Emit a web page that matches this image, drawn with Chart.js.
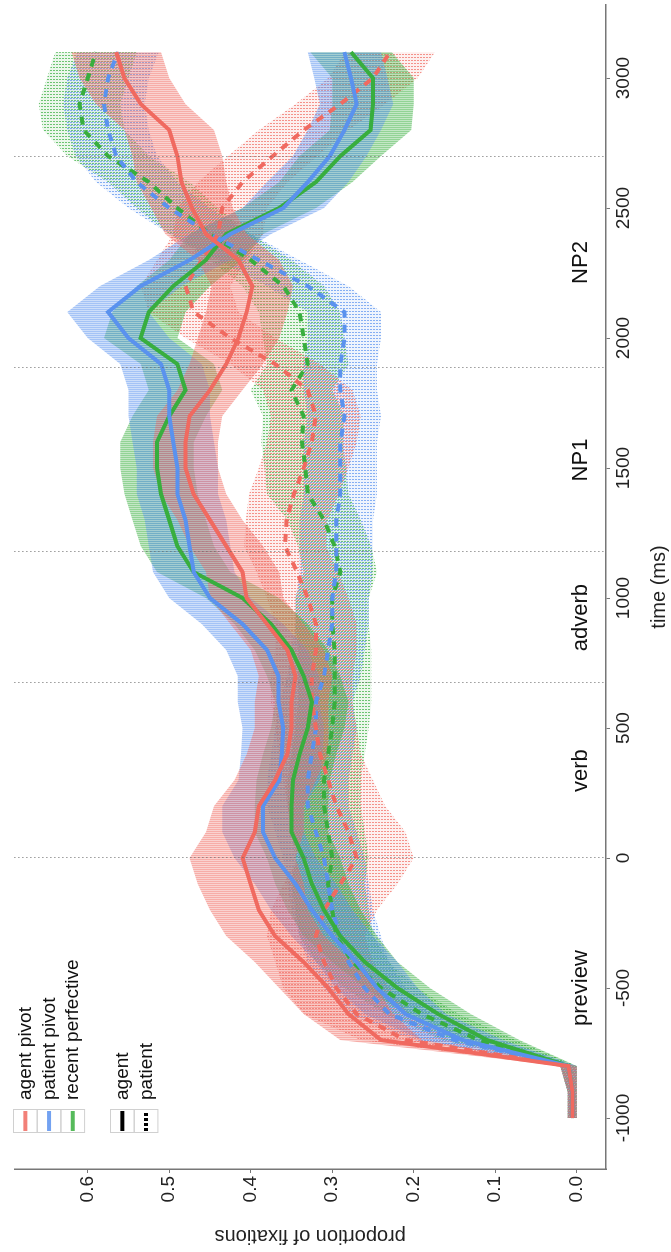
<!DOCTYPE html>
<html>
<head>
<meta charset="utf-8">
<script src="https://cdn.jsdelivr.net/npm/chart.js@4.4.1/dist/chart.umd.min.js"></script>
<style>
  html, body { margin: 0; padding: 0; background: #fff; overflow: hidden; }
  body { width: 671px; height: 1252px; position: relative; }
  /* the figure is drawn landscape and turned a quarter turn to the left */
  #wrap { position: absolute; left: 0; top: 0; width: 1252px; height: 671px;
          transform-origin: 0 0; transform: translate(0, 1252px) rotate(-90deg); }
</style>
</head>
<body>
<div id="wrap"><canvas id="chart" width="1252" height="671"></canvas></div>
<script>
// time in ms
const times = [-1000, -900, -800, -700, -600, -500, -400, -300, -200, -100,
  0, 100, 200, 300, 400, 500, 600, 700, 800, 900,
  1000, 1100, 1200, 1300, 1400, 1500, 1600, 1700, 1800, 1900,
  2000, 2100, 2200, 2300, 2400, 2500, 2600, 2700, 2800, 2900,
  3000, 3100];

// proportion of fixations: condition x looked-at referent
const apAgent = [0.005, 0.005, 0.01, 0.24, 0.28, 0.305, 0.335, 0.37, 0.39, 0.40,
  0.41, 0.395, 0.39, 0.37, 0.355, 0.35, 0.35, 0.345, 0.355, 0.38,
  0.405, 0.41, 0.43, 0.45, 0.47, 0.48, 0.48, 0.475, 0.45, 0.43,
  0.415, 0.405, 0.398, 0.415, 0.455, 0.472, 0.485, 0.49, 0.50, 0.535,
  0.555, 0.565];
const apPatient = [0.005, 0.005, 0.01, 0.21, 0.27, 0.295, 0.31, 0.32, 0.31, 0.29,
  0.27, 0.28, 0.295, 0.305, 0.315, 0.32, 0.325, 0.325, 0.32, 0.32,
  0.33, 0.343, 0.358, 0.356, 0.347, 0.335, 0.325, 0.32, 0.33, 0.37,
  0.425, 0.47, 0.48, 0.46, 0.44, 0.435, 0.41, 0.373, 0.335, 0.29,
  0.25, 0.229];
const ppAgent = [0.005, 0.005, 0.01, 0.14, 0.21, 0.245, 0.27, 0.30, 0.325, 0.345,
  0.37, 0.385, 0.385, 0.365, 0.362, 0.36, 0.366, 0.366, 0.38, 0.41,
  0.45, 0.47, 0.475, 0.48, 0.49, 0.49, 0.495, 0.50, 0.50, 0.51,
  0.55, 0.575, 0.535, 0.475, 0.425, 0.36, 0.33, 0.303, 0.285, 0.27,
  0.277, 0.285];
const ppPatient = [0.005, 0.005, 0.01, 0.15, 0.23, 0.26, 0.28, 0.29, 0.30, 0.305,
  0.31, 0.32, 0.33, 0.33, 0.325, 0.32, 0.32, 0.31, 0.305, 0.30,
  0.30, 0.295, 0.295, 0.295, 0.29, 0.29, 0.29, 0.285, 0.29, 0.29,
  0.285, 0.285, 0.33, 0.39, 0.45, 0.50, 0.54, 0.565, 0.575, 0.58,
  0.575, 0.563];
const rpAgent = [0.005, 0.005, 0.01, 0.11, 0.17, 0.22, 0.26, 0.29, 0.31, 0.325,
  0.335, 0.35, 0.35, 0.348, 0.34, 0.33, 0.325, 0.335, 0.35, 0.375,
  0.41, 0.47, 0.49, 0.50, 0.51, 0.515, 0.515, 0.50, 0.48, 0.49,
  0.535, 0.525, 0.495, 0.455, 0.43, 0.365, 0.32, 0.29, 0.253, 0.25,
  0.25, 0.277];
const rpPatient = [0.005, 0.005, 0.01, 0.12, 0.19, 0.24, 0.275, 0.295, 0.30, 0.305,
  0.30, 0.305, 0.31, 0.31, 0.305, 0.30, 0.297, 0.297, 0.297, 0.30,
  0.30, 0.29, 0.297, 0.31, 0.33, 0.333, 0.337, 0.335, 0.35, 0.33,
  0.335, 0.34, 0.36, 0.40, 0.45, 0.49, 0.525, 0.575, 0.605, 0.61,
  0.60, 0.59];

// half width of the error band around each line
const apAgentErr = [0.006, 0.006, 0.01, 0.05, 0.055, 0.06, 0.06, 0.06, 0.06, 0.065,
  0.065, 0.06, 0.055, 0.05, 0.05, 0.045, 0.045, 0.045, 0.045, 0.045,
  0.045, 0.045, 0.045, 0.04, 0.04, 0.04, 0.04, 0.04, 0.04, 0.045,
  0.05, 0.05, 0.05, 0.05, 0.05, 0.05, 0.055, 0.055, 0.055, 0.055,
  0.055, 0.055];
const apPatientErr = [0.006, 0.006, 0.01, 0.055, 0.065, 0.065, 0.06, 0.06, 0.065, 0.07,
  0.07, 0.07, 0.06, 0.055, 0.05, 0.05, 0.05, 0.05, 0.05, 0.05,
  0.05, 0.05, 0.05, 0.05, 0.055, 0.055, 0.055, 0.055, 0.055, 0.055,
  0.055, 0.055, 0.055, 0.055, 0.055, 0.055, 0.055, 0.055, 0.055, 0.055,
  0.055, 0.055];
const ppAgentErr = [0.006, 0.006, 0.01, 0.05, 0.05, 0.05, 0.05, 0.05, 0.05, 0.05,
  0.05, 0.05, 0.05, 0.05, 0.05, 0.05, 0.05, 0.05, 0.05, 0.05,
  0.05, 0.05, 0.05, 0.05, 0.05, 0.05, 0.05, 0.05, 0.05, 0.05,
  0.05, 0.05, 0.05, 0.05, 0.05, 0.05, 0.05, 0.045, 0.045, 0.045,
  0.045, 0.045];
const ppPatientErr = [0.006, 0.006, 0.01, 0.05, 0.05, 0.05, 0.05, 0.05, 0.05, 0.05,
  0.05, 0.05, 0.05, 0.05, 0.05, 0.05, 0.045, 0.045, 0.045, 0.045,
  0.045, 0.045, 0.045, 0.045, 0.045, 0.045, 0.045, 0.045, 0.045, 0.045,
  0.045, 0.045, 0.05, 0.05, 0.05, 0.05, 0.05, 0.05, 0.05, 0.05,
  0.05, 0.05];
const rpAgentErr = [0.006, 0.006, 0.01, 0.04, 0.04, 0.04, 0.04, 0.045, 0.045, 0.045,
  0.045, 0.045, 0.045, 0.045, 0.045, 0.045, 0.045, 0.045, 0.045, 0.045,
  0.045, 0.045, 0.045, 0.045, 0.045, 0.045, 0.045, 0.045, 0.045, 0.045,
  0.045, 0.045, 0.045, 0.045, 0.045, 0.045, 0.045, 0.05, 0.05, 0.05,
  0.05, 0.05];
const rpPatientErr = [0.006, 0.006, 0.01, 0.045, 0.045, 0.045, 0.045, 0.045, 0.045, 0.045,
  0.045, 0.045, 0.045, 0.045, 0.045, 0.045, 0.045, 0.045, 0.045, 0.045,
  0.045, 0.045, 0.045, 0.045, 0.05, 0.05, 0.05, 0.05, 0.05, 0.05,
  0.05, 0.05, 0.05, 0.05, 0.05, 0.05, 0.05, 0.05, 0.05, 0.05,
  0.05, 0.05];

const xTicks = [-1000, -500, 0, 500, 1000, 1500, 2000, 2500, 3000];
const yTicks = [0, 0.1, 0.2, 0.3, 0.4, 0.5, 0.6];
// region onsets (dotted lines) and region names
const onsets = [0, 673, 1177, 1885, 2696];
const regions = ['preview', 'verb', 'adverb', 'NP1', 'NP2'];
const conditions = ['agent pivot', 'patient pivot', 'recent perfective'];
const roles = ['agent', 'patient'];

const FONT = '"Liberation Sans", Arial, Helvetica, sans-serif';
const condColors = [[240, 106, 96], [90, 146, 238], [56, 174, 62]];
const rgba = (c, a) => `rgba(${c[0]},${c[1]},${c[2]},${a})`;

// hatched fills that imitate the dense error bars
function stripes(c) {
  const p = document.createElement('canvas');
  p.width = 2; p.height = 1;
  const g = p.getContext('2d');
  g.fillStyle = rgba(c, 0.55); g.fillRect(0, 0, 1, 1);
  g.fillStyle = rgba(c, 0.3); g.fillRect(1, 0, 1, 1);
  return g.createPattern(p, 'repeat');
}
// dotted bars, each condition on its own column so overlaps mix instead of covering
function dots(c, k) {
  const p = document.createElement('canvas');
  p.width = 3; p.height = 3;
  const g = p.getContext('2d');
  g.fillStyle = rgba(c, 0.1); g.fillRect(0, 0, 3, 3);
  g.fillStyle = rgba(c, 0.7); g.fillRect(k, k, 1, 2);
  if (k === 2) g.fillRect(k, 0, 1, 1);
  return g.createPattern(p, 'repeat');
}

const series = [
  { vals: apAgent, err: apAgentErr, cond: 0, dashed: false },
  { vals: ppAgent, err: ppAgentErr, cond: 1, dashed: false },
  { vals: rpAgent, err: rpAgentErr, cond: 2, dashed: false },
  { vals: apPatient, err: apPatientErr, cond: 0, dashed: true },
  { vals: ppPatient, err: ppPatientErr, cond: 1, dashed: true },
  { vals: rpPatient, err: rpPatientErr, cond: 2, dashed: true }
];

const pts = arr => times.map((t, i) => ({ x: t, y: arr[i] }));
const datasets = [];
// lines on top
series.forEach(s => {
  datasets.push({
    data: pts(s.vals), borderColor: rgba(condColors[s.cond], 1), borderWidth: 4,
    borderDash: s.dashed ? [8, 7] : [], pointRadius: 0, fill: false, order: 0,
    borderCapStyle: 'butt', tension: 0
  });
});
// error bands underneath, upper edge fills down to lower edge
series.forEach(s => {
  const fillStyle = s.dashed ? dots(condColors[s.cond], s.cond) : stripes(condColors[s.cond]);
  datasets.push({
    data: pts(s.vals.map((v, i) => v + s.err[i])), borderColor: 'transparent', borderWidth: 0,
    pointRadius: 0, fill: '+1', backgroundColor: fillStyle, order: 1
  });
  datasets.push({
    data: pts(s.vals.map((v, i) => Math.max(0, v - s.err[i]))), borderColor: 'transparent',
    borderWidth: 0, pointRadius: 0, fill: false, order: 1
  });
});

const annotations = {
  id: 'annotations',
  afterDatasetsDraw(chart) {
    const { ctx, chartArea, scales } = chart;
    ctx.save();
    ctx.strokeStyle = '#666';
    ctx.lineWidth = 1;
    ctx.setLineDash([1, 3]);
    onsets.forEach(t => {
      const x = Math.round(scales.x.getPixelForValue(t)) + 0.5;
      ctx.beginPath();
      ctx.moveTo(x, chartArea.top);
      ctx.lineTo(x, chartArea.bottom);
      ctx.stroke();
    });
    ctx.restore();
  },
  afterDraw(chart) {
    const { ctx, scales } = chart;
    ctx.save();
    // region names
    ctx.fillStyle = '#111';
    ctx.font = '22px ' + FONT;
    ctx.textAlign = 'center';
    ctx.textBaseline = 'alphabetic';
    const starts = [xTicks[0]].concat(onsets);
    regions.forEach((r, i) => {
      const mid = (starts[i] + starts[i + 1]) / 2;
      ctx.fillText(r, scales.x.getPixelForValue(mid), 587);
    });
    // legends
    const keyX = 119, keyW = 23, rowH = 23.7;
    ctx.font = '19px ' + FONT;
    ctx.textAlign = 'left';
    ctx.textBaseline = 'middle';
    const drawKey = (y0, color, dashed) => {
      ctx.strokeStyle = '#d0d0d0';
      ctx.lineWidth = 1;
      ctx.setLineDash([]);
      ctx.strokeRect(keyX + 0.5, y0 + 0.5, keyW, rowH);
      ctx.strokeStyle = color;
      ctx.lineWidth = 4;
      if (dashed) ctx.setLineDash([3, 2]);
      ctx.beginPath();
      ctx.moveTo(keyX + 2, y0 + rowH / 2 + 0.5);
      ctx.lineTo(keyX + keyW - 1, y0 + rowH / 2 + 0.5);
      ctx.stroke();
      ctx.setLineDash([]);
    };
    conditions.forEach((c, i) => {
      const y0 = 13 + i * rowH;
      drawKey(y0, rgba(condColors[i], 0.85), false);
      ctx.fillStyle = '#111';
      ctx.fillText(c, 152, y0 + rowH / 2 + 1);
    });
    roles.forEach((r, i) => {
      const y0 = 110 + i * rowH;
      drawKey(y0, '#000', i === 1);
      ctx.fillStyle = '#111';
      ctx.fillText(r, 152, y0 + rowH / 2 + 1);
    });
    ctx.restore();
  }
};

new Chart(document.getElementById('chart'), {
  type: 'line',
  data: { datasets: datasets },
  plugins: [annotations],
  options: {
    responsive: false,
    animation: false,
    events: [],
    layout: { padding: { left: 0, right: 5, top: 5, bottom: 0 } },
    plugins: { legend: { display: false }, tooltip: { enabled: false } },
    scales: {
      x: {
        type: 'linear', min: -1196, max: 3281,
        afterFit(s) { s.height = 65; },
        afterBuildTicks(s) { s.ticks = xTicks.map(v => ({ value: v })); },
        grid: { display: true, drawOnChartArea: false, drawTicks: true, tickLength: 4, color: '#777' },
        border: { display: true, color: '#777', width: 1.5 },
        ticks: { font: { family: FONT, size: 19 }, color: '#222', padding: 2, maxRotation: 0,
                 autoSkip: false, callback: v => String(v) },
        title: { display: true, text: 'time (ms)', font: { family: FONT, size: 20 }, color: '#222',
                 padding: { top: 0, bottom: 0 } }
      },
      y: {
        type: 'linear', min: -0.036, max: 0.69,
        afterFit(s) { s.width = 83; },
        afterBuildTicks(s) { s.ticks = yTicks.map(v => ({ value: v })); },
        grid: { display: true, drawOnChartArea: false, drawTicks: true, tickLength: 4, color: '#777' },
        border: { display: true, color: '#777', width: 1.5 },
        ticks: { font: { family: FONT, size: 19 }, color: '#222', padding: 3,
                 callback: v => v.toFixed(1) },
        title: { display: true, text: 'proportion of fixations', font: { family: FONT, size: 20 },
                 color: '#222', padding: { top: 4, bottom: 0 } }
      }
    }
  }
});
</script>
</body>
</html>
